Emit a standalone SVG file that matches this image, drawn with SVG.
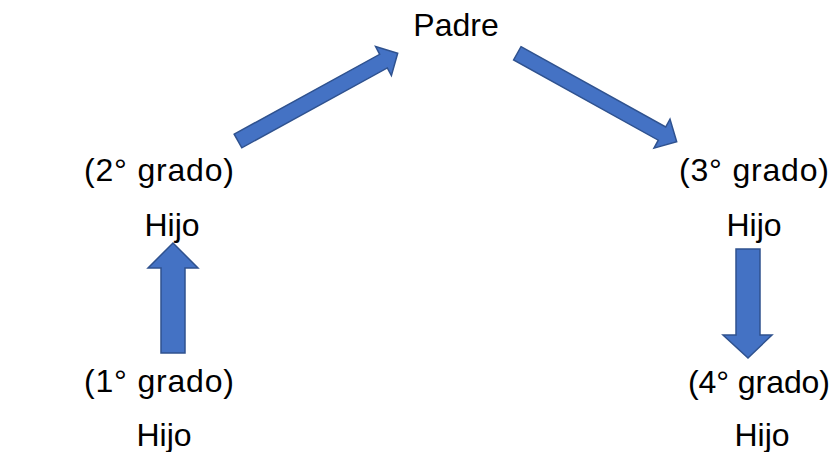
<svg xmlns="http://www.w3.org/2000/svg" width="832" height="452" viewBox="0 0 832 452">
<style>
.t{font-family:"Liberation Sans",Arial,sans-serif;font-size:32px;fill:#000;text-anchor:middle}
.a{fill:#4472C4;stroke:#2F528F;stroke-width:1.5;stroke-linejoin:miter}
</style>
<rect width="832" height="452" fill="#fff"/>
<g id="padre"><text class="t" x="456" y="36">Padre</text></g>
<g id="hijo2"><text class="t" x="159" y="181" textLength="150" lengthAdjust="spacing">(2° grado)</text><text class="t" x="172" y="236">Hijo</text></g>
<g id="hijo1"><text class="t" x="159" y="392" textLength="150" lengthAdjust="spacing">(1° grado)</text><text class="t" x="164" y="446">Hijo</text></g>
<g id="hijo3"><text class="t" x="754" y="181" textLength="150" lengthAdjust="spacing">(3° grado)</text><text class="t" x="754" y="236">Hijo</text></g>
<g id="hijo4"><text class="t" x="759" y="393" textLength="142" lengthAdjust="spacing">(4° grado)</text><text class="t" x="762" y="446">Hijo</text></g>
<g id="connectors">
<polygon class="a" points="234.2,134.2 379.7,54.3 375.6,46.6 397.7,53.3 391.4,75.6 387.3,67.9 241.8,147.8"/>
<polygon class="a" points="521,46.7 665.7,127 670,119.1 676.7,141.7 654,148.1 658.3,140.2 513.6,59.9"/>
<polygon class="a" points="161,353 161,268 148,268 173,243 198,268 185,268 185,353"/>
<polygon class="a" points="736,249 760,249 760,335 772,335 748,358 723,335 736,335"/>
</g>
</svg>
